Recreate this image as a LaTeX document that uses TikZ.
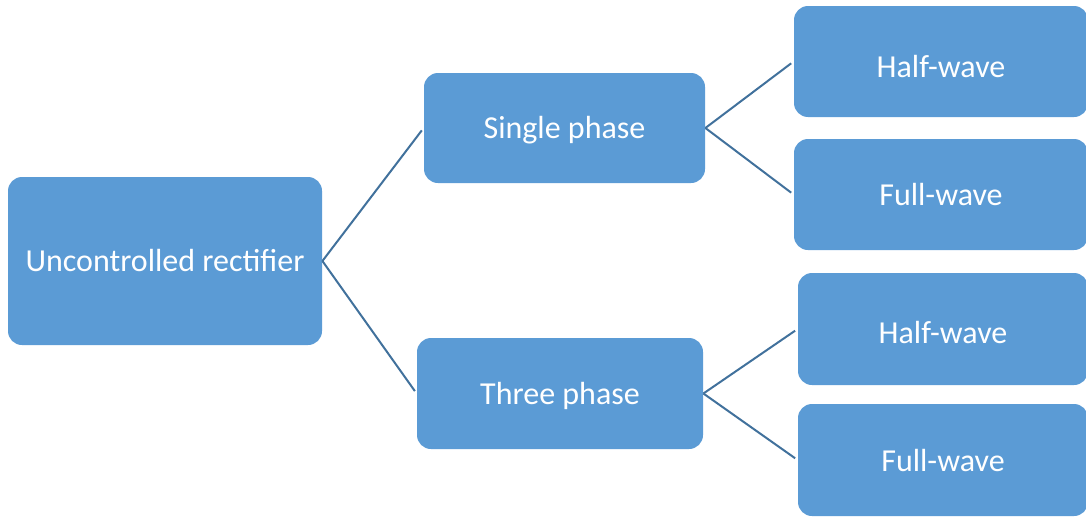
\documentclass[tikz,border=0pt]{standalone}
\usepackage{fontspec}
\setmainfont{Carlito}
\usepackage{tikz}
\usetikzlibrary{positioning}

% push the text of a box down by #1
\newcommand{\lowertext}[2]{\raisebox{0pt}[\dimexpr\height+2\dimexpr#1\relax\relax][\depth]{#2}}

\begin{document}
\begin{tikzpicture}[x=0.5pt, y=0.5pt, font=\fontsize{16}{19}\selectfont]
  \definecolor{boxblue}{HTML}{5B9BD5}
  \definecolor{linkblue}{HTML}{41719C}
  \tikzset{
    block/.style={fill=boxblue, text=white, rounded corners=7pt, inner sep=0pt, align=center},
    link/.style={draw=linkblue, line width=1pt, shorten >=1.5pt}
  }

  \useasboundingbox (0,0) rectangle (1086,516);

  % root and the two phase boxes
  \node[block, minimum width=157pt, minimum height=84pt] (root) at (165,255) {Uncontrolled rectifier};
  \node[block, minimum width=140.5pt, minimum height=55pt] (single) at (564.5,388) {\lowertext{1pt}{Single phase}};
  \node[block, minimum width=143pt, minimum height=55.5pt] (three) at (560,122.5) {\lowertext{1pt}{Three phase}};

  % leaves
  \node[block, minimum width=147pt, minimum height=55.5pt] (halfA) at (941,454.5) {\lowertext{2.5pt}{Half-wave}};
  \node[block, minimum width=147pt, minimum height=55.5pt] (fullA) at (941,321.5) {Full-wave};
  \node[block, minimum width=145pt, minimum height=56pt] (halfB) at (943,187) {\lowertext{2pt}{Half-wave}};
  \node[block, minimum width=145pt, minimum height=56pt] (fullB) at (943,56) {Full-wave};

  \draw[link] (root.east) -- (single.west);
  \draw[link] (root.east) -- (three.west);
  \draw[link] (single.east) -- (halfA.west);
  \draw[link] (single.east) -- (fullA.west);
  \draw[link] (three.east) -- (halfB.west);
  \draw[link] (three.east) -- (fullB.west);
\end{tikzpicture}
\end{document}
